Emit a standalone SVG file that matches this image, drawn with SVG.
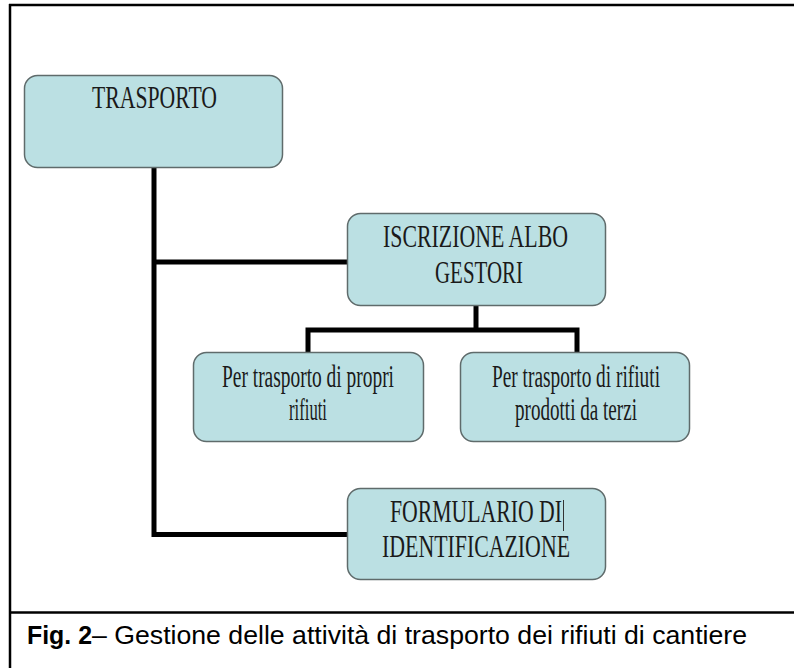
<svg xmlns="http://www.w3.org/2000/svg" width="794" height="668" viewBox="0 0 794 668">
<style>
.box{fill:#bbe0e3;stroke:#5f6b6b;stroke-width:1.5}
.lbl{font-family:"Liberation Serif","Times New Roman",serif;font-size:31px;fill:#1a1a1a}
.con{fill:none;stroke:#000;stroke-width:5;stroke-linejoin:miter}
.frame{stroke:#000;stroke-width:2.5;fill:none}
.cap{font-family:"Liberation Sans",Arial,sans-serif;font-size:25px;fill:#000}
</style>
<rect width="794" height="668" fill="#fff"/>
<g id="frame">
<line class="frame" x1="9" y1="5" x2="794" y2="5"/>
<line class="frame" x1="10" y1="4" x2="10" y2="668"/>
<line class="frame" x1="9" y1="612.5" x2="794" y2="612.5"/>
</g>
<g id="connectors">
<polyline class="con" points="154,167 154,534.5 348,534.5"/>
<line class="con" x1="154" y1="262" x2="348" y2="262"/>
<line class="con" x1="476" y1="306" x2="476" y2="330"/>
<polyline class="con" points="308,353 308,330 577,330 577,353"/>
</g>
<g id="trasporto">
<rect class="box" x="24.5" y="75.5" width="258" height="92" rx="13"/>
<text class="lbl" x="92" y="108" font-size="31" textLength="125" lengthAdjust="spacingAndGlyphs">TRASPORTO</text>
</g>
<g id="iscrizione">
<rect class="box" x="347.5" y="213.5" width="258" height="92" rx="13"/>
<text class="lbl" x="383" y="247" textLength="185" lengthAdjust="spacingAndGlyphs">ISCRIZIONE ALBO</text>
<text class="lbl" x="435" y="283" textLength="88" lengthAdjust="spacingAndGlyphs">GESTORI</text>
</g>
<g id="propri">
<rect class="box" x="193.5" y="352.5" width="230" height="89" rx="13"/>
<text class="lbl" x="222" y="387" font-size="32" textLength="172" lengthAdjust="spacingAndGlyphs">Per trasporto di propri</text>
<text class="lbl" x="289" y="420" font-size="32" textLength="38" lengthAdjust="spacingAndGlyphs">rifiuti</text>
</g>
<g id="terzi">
<rect class="box" x="460.5" y="352.5" width="229" height="89" rx="13"/>
<text class="lbl" x="492" y="387" font-size="32" textLength="168" lengthAdjust="spacingAndGlyphs">Per trasporto di rifiuti</text>
<text class="lbl" x="515" y="420" font-size="32" textLength="122" lengthAdjust="spacingAndGlyphs">prodotti da terzi</text>
</g>
<g id="formulario">
<rect class="box" x="347.5" y="488.5" width="258" height="91" rx="13"/>
<text class="lbl" x="390" y="522" textLength="172" lengthAdjust="spacingAndGlyphs">FORMULARIO DI</text>
<line x1="563.5" y1="500" x2="563.5" y2="531" stroke="#333" stroke-width="1"/>
<text class="lbl" x="382" y="557" textLength="188" lengthAdjust="spacingAndGlyphs">IDENTIFICAZIONE</text>
</g>
<g id="caption">
<text class="cap" x="27" y="644" font-weight="bold" textLength="65" lengthAdjust="spacingAndGlyphs">Fig. 2</text>
<text class="cap" x="92" y="644" textLength="655" lengthAdjust="spacingAndGlyphs">– Gestione delle attività di trasporto dei rifiuti di cantiere</text>
</g>
</svg>
